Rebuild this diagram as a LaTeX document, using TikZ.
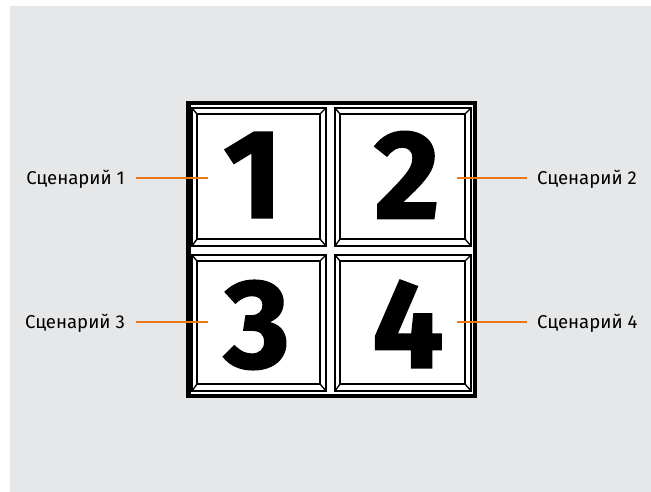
\documentclass[tikz,border=0pt]{standalone}
\usepackage{fontspec}
\setmainfont{Fira Sans}
\newfontfamily\digitfont{Fira Sans}[BoldFeatures={FakeBold=1.6}]
\usepackage{tikz}
\usetikzlibrary{positioning}

\definecolor{bggray}{HTML}{E6E7E8}
\definecolor{leadorange}{HTML}{E8781A}

\begin{document}
\begin{tikzpicture}[
    x=1pt, y=-1pt,
    every node/.style={inner sep=0pt},
    frame/.style={draw=black, line width=4.5pt, fill=white},
    panel/.style={draw=black, line width=1.4pt},
    digit/.style={font=\fontsize{126}{126}\digitfont\bfseries},
    scenlbl/.style={font=\fontsize{18.6}{22}\selectfont, text height=12.8pt, text depth=0pt},
    lead/.style={draw=leadorange, line width=1.5pt}
]
% Row heights of the leader lines
\def\yTop{178}  \def\yBot{322}
% Leader line ends inside the panels
\def\xpinL{208} \def\xpinR{457}
\useasboundingbox (0,0) rectangle (651,492);
% Background
\fill[bggray] (10,6) rectangle (651,492);
% Outer frame
\draw[frame] (188.25,103.25) rectangle (474.75,395.75);
% Four bevelled panels
\foreach \xa/\ya/\xb/\yb in {192/108/326/246, 335/108/471/246,
                             192/255/326/391, 335/255/471/391} {
  \draw[panel] (\xa,\ya) rectangle (\xb,\yb);
  \draw[panel] (\xa+5,\ya+6) rectangle (\xb-6,\yb-7);
  \draw[panel] (\xa,\ya) -- (\xa+5,\ya+6);
  \draw[panel] (\xb,\ya) -- (\xb-6,\ya+6);
  \draw[panel] (\xa,\yb) -- (\xa+5,\yb-7);
  \draw[panel] (\xb,\yb) -- (\xb-6,\yb-7);
}
% Big numbers
\node[digit] (num1) at (253,175) {1};
\node[digit] (num2) at (407,175) {2};
\node[digit] (num3) at (257,325) {3};
\node[digit] (num4) at (408,324) {4};
% Scenario labels
\node[scenlbl, anchor=east] (scen1) at (125,\yTop) {Сценарий 1};
\node[scenlbl, anchor=west] (scen2) at (537,\yTop) {Сценарий 2};
\node[scenlbl, anchor=east] (scen3) at (125,\yBot) {Сценарий 3};
\node[scenlbl, anchor=west] (scen4) at (537,\yBot) {Сценарий 4};
% Leader lines
\coordinate (pin1) at (\xpinL,\yTop);
\coordinate (pin2) at (\xpinR,\yTop);
\coordinate (pin3) at (\xpinL,\yBot);
\coordinate (pin4) at (\xpinR,\yBot);
\draw[lead, shorten <=11pt] (scen1) -- (pin1);
\draw[lead, shorten >=10pt] (pin2) -- (scen2);
\draw[lead, shorten <=11pt] (scen3) -- (pin3);
\draw[lead, shorten >=10pt] (pin4) -- (scen4);
\end{tikzpicture}
\end{document}
